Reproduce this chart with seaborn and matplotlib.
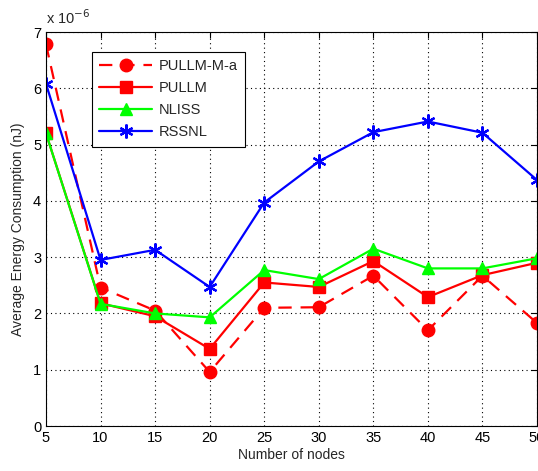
import matplotlib
matplotlib.use("Agg")
import matplotlib.pyplot as plt
import seaborn as sns
import pandas as pd

nodes = [5, 10, 15, 20, 25, 30, 35, 40, 45, 50]
pullm_m_a = [6.78, 2.46, 2.05, 0.96, 2.10, 2.11, 2.67, 1.70, 2.67, 1.83]
pullm = [5.20, 2.18, 1.95, 1.37, 2.55, 2.47, 2.93, 2.29, 2.68, 2.90]
nliss = [5.20, 2.17, 2.00, 1.93, 2.77, 2.61, 3.15, 2.80, 2.80, 2.98]
rssnl = [6.08, 2.95, 3.13, 2.47, 3.97, 4.70, 5.22, 5.41, 5.21, 4.37]

series_names = ["PULLM-M-a", "PULLM", "NLISS", "RSSNL"]
series_vals = [pullm_m_a, pullm, nliss, rssnl]

sns.set_style("white")
plt.rcParams['font.family'] = ['Liberation Sans', 'DejaVu Sans']

fig = plt.figure(figsize=(5.38, 4.71), dpi=100)
ax = fig.add_axes([46/538, 1-426/471, (537-46)/538, (426-32)/471])

styles = {
    "PULLM-M-a": dict(color="#ff0000", marker="o", linestyle=(0, (6, 4)), markersize=9, lw=1.6, mew=1),
    "PULLM": dict(color="#ff0000", marker="s", linestyle="-", markersize=8.5, lw=1.6, mew=1),
    "NLISS": dict(color="#00ff00", marker="^", linestyle="-", markersize=9, lw=1.6, mew=1),
    "RSSNL": dict(color="#0000ff", marker=(6, 2, 0), linestyle="-", markersize=10, lw=1.6, mew=1.6),
}

for name, vals in zip(series_names, series_vals):
    df = pd.DataFrame({"x": nodes, "y": vals})
    st = styles[name]
    sns.lineplot(data=df, x="x", y="y", ax=ax, color=st["color"], marker=st["marker"],
                 linestyle=st["linestyle"], markersize=st["markersize"], linewidth=st["lw"],
                 markeredgecolor=st["color"], markerfacecolor=st["color"],
                 markeredgewidth=st["mew"], label=name)

ax.set_xlim(5, 50)
ax.set_ylim(0, 7)
ax.set_xticks(nodes)
ax.set_yticks(range(0, 8))
ax.grid(True, color="black", linestyle=(0, (1, 3)), linewidth=0.8)
for s in ax.spines.values():
    s.set_color("black")
    s.set_linewidth(0.8)
ax.tick_params(direction="in", length=4, labelsize=10.5, colors="black", top=True, right=True)
ax.set_xlabel("Number of nodes", fontsize=10, labelpad=2)
ax.set_ylabel("Average Energy Consumption (nJ)", fontsize=10, labelpad=6)
ax.text(0.0, 1.012, "x 10$^{-6}$", transform=ax.transAxes, fontsize=10.5, ha="left", va="bottom")

leg = ax.legend(loc="upper left", bbox_to_anchor=(92/538, 1-52/471), bbox_transform=fig.transFigure,
                borderaxespad=0, fancybox=False, framealpha=1, edgecolor="black", fontsize=10.5,
                handlelength=3.6, borderpad=0.5, labelspacing=0.55, handletextpad=0.5)
leg.get_frame().set_linewidth(0.8)

fig.savefig("out.png", dpi=100)
